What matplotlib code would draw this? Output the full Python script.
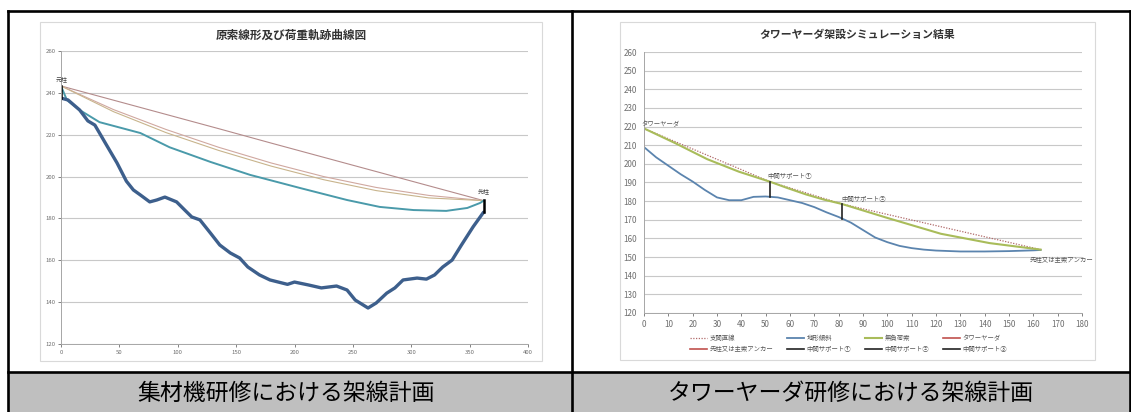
import matplotlib
matplotlib.use('Agg')
import matplotlib.pyplot as plt
from matplotlib.patches import Rectangle

plt.rcParams['font.family'] = ['Noto Sans CJK JP', 'DejaVu Sans']

# left chart: ground profile and cable lines
ground_x = [0, 6, 16, 23, 29, 33, 38, 48, 56, 62, 68, 76, 82, 89, 99, 106, 112, 119, 128, 136,
            145, 153, 160, 170, 179, 194, 200, 212, 223, 236, 245, 252, 263, 270, 279, 286, 293,
            305, 313, 320, 327, 335, 343, 353, 362]
ground_y = [237.5, 236.6, 231.8, 226.6, 224.6, 220.8, 216, 206.5, 197.8, 193.6, 191.2, 187.9,
            188.8, 190.2, 187.9, 184, 180.7, 179.3, 173, 167.3, 163.5, 161.1, 156.8, 153, 150.6,
            148.5, 149.6, 148.2, 146.8, 147.7, 145.8, 141, 137.2, 139.6, 144.3, 146.8, 150.6,
            151.5, 151, 153, 156.8, 160.1, 167.3, 176, 183]
cable_x = [0, 45, 90, 135, 180, 225, 270, 315, 362]
chord_y = [243.3, 236.5, 229.7, 222.9, 216, 209.2, 202.4, 195.6, 188.5]
tan1_y = [243.3, 232, 222.5, 214, 206.5, 200, 194.8, 191, 188.5]
tan2_y = [243.3, 231, 221, 212.5, 205, 198.5, 193.3, 189.8, 188.5]
load_x = [0, 5, 16, 33, 68, 93, 128, 162, 205, 245, 273, 302, 330, 348, 359, 362]
load_y = [243.3, 236.6, 231.8, 226, 220.8, 214, 207, 200.8, 194.5, 188.8, 185.5, 184, 183.6,
          185, 187.4, 188.5]

# right chart: tower yarder simulation
terrain_x = [0, 5, 10, 15, 20, 25, 30, 35, 40, 45, 50, 52, 55, 60, 65, 70, 75, 80, 82, 85,
             90, 95, 100, 105, 110, 115, 120, 130, 140, 150, 160, 163]
terrain_y = [209, 203.5, 199, 194.5, 190.5, 186, 182, 180.5, 180.5, 182.3, 182.5, 182.3, 182,
             180.5, 179, 176.8, 174, 171.5, 170.3, 168.5, 164.5, 160.5, 158, 156, 154.8, 154,
             153.5, 153, 153, 153.2, 153.6, 153.8]
span_x = [0, 51.8, 81.3, 163]
span_y = [219, 190.4, 178.5, 154]
cable2_x = [0, 13, 26, 39, 51.8, 59, 66.6, 74, 81.3, 100, 122, 142, 163]
cable2_y = [219, 211, 202.5, 195.8, 190.4, 187, 183.6, 180.8, 178.5, 171, 162.5, 157.5, 154]
support_x = [51.8, 81.3]
support_bot = [182.4, 170.3]
support_top = [190.4, 178.5]

legend_names = ['支間直線', '地形傾斜', '無負荷索', 'タワーヤーダ',
                '先柱又は主索アンカー', '中間サポート①', '中間サポート②', '中間サポート③']
captions = ['集材機研修における架線計画', 'タワーヤーダ研修における架線計画']

W, H = 1131, 412
fig = plt.figure(figsize=(W / 100, H / 100), dpi=100)


def box(x0, y0, x1, y1):
    return [x0 / W, 1 - y1 / H, (x1 - x0) / W, (y1 - y0) / H]


# frame / table in pixel coordinates
bg = fig.add_axes([0, 0, 1, 1])
bg.set_xlim(0, W)
bg.set_ylim(H, 0)
bg.axis('off')
bg.add_patch(Rectangle((8, 373), W - 8, 40, color='#BFBFBF', lw=0))
bg.add_patch(Rectangle((40, 22), 502, 339, fill=False, ec='#D9D9D9', lw=0.8))
bg.add_patch(Rectangle((620, 22), 475, 338, fill=False, ec='#D9D9D9', lw=0.8))
lw_tab = 1.9
bg.plot([8, W], [11, 11], color='black', lw=lw_tab)
bg.plot([8, W], [372, 372], color='black', lw=lw_tab)
for xv in [8, 572, 1130]:
    bg.plot([xv, xv], [11, H], color='black', lw=lw_tab)
bg.text(286, 393, captions[0], ha='center', va='center', fontsize=16.5)
bg.text(851, 393, captions[1], ha='center', va='center', fontsize=16.5)
bg.text(291, 35, '原索線形及び荷重軌跡曲線図', ha='center', va='center',
        fontsize=8.4, fontweight='bold', color='#333333')
bg.text(857, 35, 'タワーヤーダ架設シミュレーション結果', ha='center', va='center',
        fontsize=7.8, fontweight='bold', color='#333333')

tick_col = '#6E6E6E'

# ---- left chart ----
ax = fig.add_axes(box(61, 51, 528, 344))
ax.set_facecolor('none')
ax.set_xlim(0, 400)
ax.set_ylim(120, 260)
ax.set_xticks(range(0, 401, 50))
ax.set_yticks(range(120, 261, 20))
ax.grid(axis='y', color='#C8C8C8', lw=0.8)
ax.set_axisbelow(True)
for s in ['top', 'right']:
    ax.spines[s].set_visible(False)
for s in ['left', 'bottom']:
    ax.spines[s].set_color('#A6A6A6')
    ax.spines[s].set_linewidth(0.7)
ax.tick_params(labelsize=4.3, colors=tick_col, length=2, width=0.6, pad=2)
ax.plot(cable_x, chord_y, color='#B48C8C', lw=0.8)
ax.plot(cable_x, tan1_y, color='#D0A8A0', lw=0.8)
ax.plot(cable_x, tan2_y, color='#C8B48C', lw=0.8)
ax.plot(load_x, load_y, color='#4A9AAA', lw=1.4)
ax.plot(ground_x, ground_y, color='#3D5F8C', lw=2.4, solid_capstyle='round')
ax.plot([0, 0], [237.5, 243.3], color='black', lw=1.8)
ax.plot([362, 362], [183, 189], color='black', lw=1.8)
ax.text(0.5, 246.5, '元柱', ha='center', va='center', fontsize=4.3, color='#444444')
ax.text(362, 192.8, '先柱', ha='center', va='center', fontsize=4.3, color='#444444')

# ---- right chart ----
ax2 = fig.add_axes(box(644, 52, 1082, 313))
ax2.set_facecolor('none')
ax2.set_xlim(0, 180)
ax2.set_ylim(120, 260)
ax2.set_xticks(range(0, 181, 10))
ax2.set_yticks(range(120, 261, 10))
ax2.grid(axis='y', color='#C8C8C8', lw=0.8)
ax2.set_axisbelow(True)
for s in ['top', 'right']:
    ax2.spines[s].set_visible(False)
for s in ['left', 'bottom']:
    ax2.spines[s].set_color('#A6A6A6')
    ax2.spines[s].set_linewidth(0.7)
ax2.tick_params(labelsize=5.8, colors=tick_col, length=2, width=0.6, pad=3)
ax2.tick_params(axis='y', length=0, pad=5)

h_span, = ax2.plot(span_x, span_y, color='#B06A6A', lw=0.9, ls=(0, (1, 1.2)))
h_ter, = ax2.plot(terrain_x, terrain_y, color='#5B84AE', lw=1.3)
h_cab, = ax2.plot(cable2_x, cable2_y, color='#A9BC5A', lw=1.5)
h_tow, = ax2.plot([0, 0], [209, 219], color='#C0504D', lw=1.2)
h_anc, = ax2.plot([], [], color='#C0504D', lw=1.2)
h_s1, = ax2.plot([support_x[0]] * 2, [support_bot[0], support_top[0]], color='#222222', lw=1.2)
h_s2, = ax2.plot([support_x[1]] * 2, [support_bot[1], support_top[1]], color='#222222', lw=1.2)
h_s3, = ax2.plot([], [], color='#222222', lw=1.2)

lab_kw = dict(fontsize=4.6, color='#555555', va='center')
ax2.text(-0.9, 221.2, 'タワーヤーダ', ha='left', **lab_kw)
ax2.text(50.5, 193.7, '中間サポート①', ha='left', **lab_kw)
ax2.text(81, 181.3, '中間サポート②', ha='left', **lab_kw)
ax2.text(158.5, 148.5, '先柱又は主索アンカー', ha='left', **lab_kw)

handles = [h_span, h_ter, h_cab, h_tow, h_anc, h_s1, h_s2, h_s3]
order = [0, 4, 1, 5, 2, 6, 3, 7]
leg = ax2.legend([handles[i] for i in order], [legend_names[i] for i in order],
                 ncol=4, fontsize=4.6, frameon=False, loc='upper left',
                 bbox_to_anchor=(0.1, -0.07), handlelength=2.6, handletextpad=0.4,
                 columnspacing=2.2, labelspacing=0.55, borderaxespad=0)
for t in leg.get_texts():
    t.set_color('#555555')

fig.savefig('out.png', dpi=100)
